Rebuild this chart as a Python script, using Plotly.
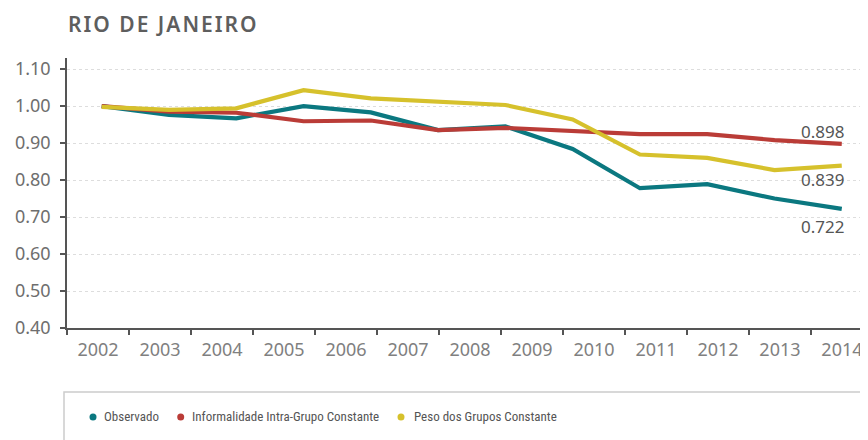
import plotly.graph_objects as go

axis_years = [str(y) for y in range(2002, 2015)]
data_years = ["2002", "2003", "2004", "2005", "2006", "2007", "2008", "2009", "2011", "2012", "2013", "2014"]

observado = [1.000, 0.976, 0.967, 1.000, 0.983, 0.935, 0.945, 0.884, 0.778, 0.789, 0.750, 0.722]
informalidade = [1.000, 0.985, 0.982, 0.959, 0.961, 0.935, 0.941, 0.933, 0.924, 0.924, 0.908, 0.898]
peso = [0.998, 0.990, 0.994, 1.043, 1.021, 1.013, 1.003, 0.964, 0.869, 0.860, 0.827, 0.839]

series = [
    ("Observado", observado, "#0b7880"),
    ("Informalidade Intra-Grupo Constante", informalidade, "#ba3c37"),
    ("Peso dos Grupos Constante", peso, "#d6c12c"),
]

yticks = [0.40, 0.50, 0.60, 0.70, 0.80, 0.90, 1.00, 1.10]

FONT = "Noto Sans"
NARROW = "Liberation Sans Narrow, Roboto Condensed, Roboto"

# page body has an 8px margin: figure is 860x432 placed at (8,8)
W, H = 860, 432
L, T, B = 59, 50, 112
PW, PH = W - L, H - T - B


def px_x(page_x):
    return (page_x - 8 - L) / PW


def px_y(page_y):
    return (H - B - (page_y - 8)) / PH


fig = go.Figure()
fig.add_trace(go.Scatter(x=axis_years, y=[None] * len(axis_years), xaxis="x", yaxis="y",
                         showlegend=False, hoverinfo="skip"))
for name, vals, col in series:
    fig.add_trace(go.Scatter(x=data_years, y=vals, name=name, mode="lines",
                             line=dict(color=col, width=4.2), xaxis="x2", yaxis="y",
                             showlegend=False))

# end labels (category axes take the category index as position)
last = len(data_years) - 1
for vals, ys in [(informalidade, 12), (peso, -14), (observado, -18)]:
    fig.add_annotation(x=last, y=vals[last], xref="x2", yref="y",
                       text=f"{vals[last]:.3f}", showarrow=False, xshift=-19, yshift=ys,
                       font=dict(family=FONT, size=17, color="#555555"))

# title
fig.add_annotation(x=px_x(66), y=px_y(24), xref="paper", yref="paper", xanchor="left",
                   yanchor="middle", showarrow=False,
                   text="<span style='letter-spacing:2px'>RIO DE JANEIRO</span>",
                   font=dict(family=FONT, size=21, color="#5e5e5e", weight=600))

# legend (manual, in a bordered box)
legend_items = [(93, 101.7, series[0]), (180.7, 190, series[1]), (401, 411.7, series[2])]
for dot_x, text_x, (name, vals, col) in legend_items:
    fig.add_shape(type="circle", xref="paper", yref="paper", xsizemode="pixel", ysizemode="pixel",
                  xanchor=px_x(dot_x), yanchor=px_y(417), x0=-3.5, x1=3.5, y0=-3.5, y1=3.5,
                  fillcolor=col, line=dict(width=0))
    fig.add_annotation(
        x=px_x(text_x), y=px_y(417), xref="paper", yref="paper",
        xanchor="left", yanchor="middle", showarrow=False, text=name,
        font=dict(family=NARROW, size=13, color="#555555"))

fig.add_shape(type="rect", xref="paper", yref="paper",
              x0=px_x(64), x1=px_x(900), y0=px_y(460), y1=px_y(392),
              line=dict(color="#cccccc", width=1.5), fillcolor="rgba(0,0,0,0)", layer="below")

fig.update_layout(
    width=W, height=H,
    margin=dict(l=L, r=0, t=T, b=B),
    paper_bgcolor="white", plot_bgcolor="white",
    showlegend=False,
    xaxis=dict(type="category", range=[-0.5, 12.42], tickson="boundaries",
               showgrid=False, showline=True, linecolor="#555555", linewidth=1.5,
               ticks="outside", ticklen=5, tickcolor="#555555", tickwidth=1.5,
               ticklabelstandoff=5,
               tickfont=dict(family=FONT, size=18, color="#808080"), zeroline=False),
    xaxis2=dict(type="category", overlaying="x", range=[-0.516, 11.39],
                showticklabels=False, showgrid=False, showline=False, ticks="", zeroline=False,
                categoryorder="array", categoryarray=data_years),
    yaxis=dict(range=[0.40, 1.13], tickvals=yticks, ticktext=[f"{v:.2f}" for v in yticks],
               showgrid=True, gridcolor="#dddddd", griddash="3px,3px", gridwidth=1,
               showline=True, linecolor="#555555", linewidth=1.5,
               ticks="outside", ticklen=5, tickcolor="#555555", tickwidth=1.5,
               ticklabelstandoff=6,
               tickfont=dict(family=FONT, size=18, color="#6e6e6e"), zeroline=False),
)

fig.write_html("out.html")
